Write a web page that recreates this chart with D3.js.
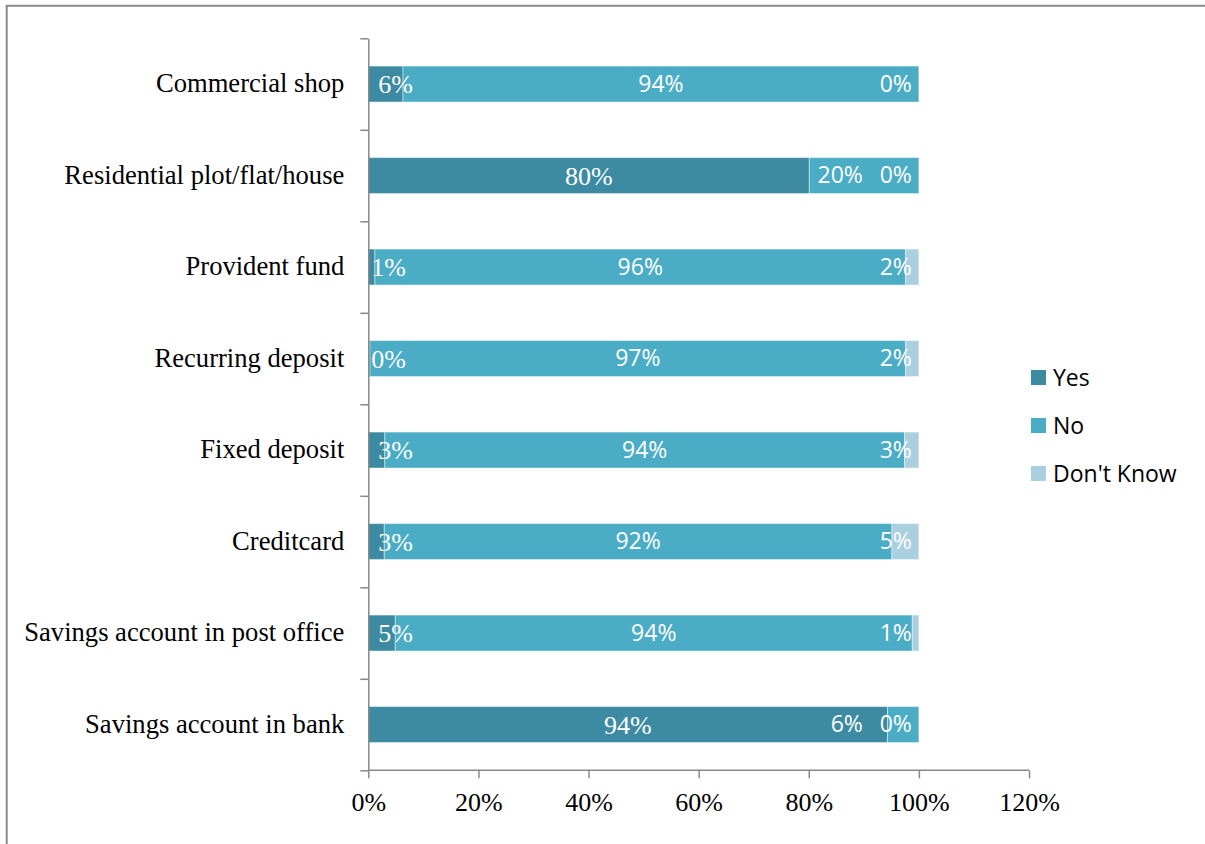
<!DOCTYPE html>
<html>
<head>
<meta charset="utf-8">
<script src="https://cdn.jsdelivr.net/npm/d3@7"></script>
<style>
  html, body { margin: 0; padding: 0; background: #ffffff; }
  svg { display: block; }
</style>
</head>
<body>
<svg id="chart" width="1205" height="844"></svg>
<script>
// Ownership of financial assets, share of respondents (%)
const categories = [
  "Commercial shop",
  "Residential plot/flat/house",
  "Provident fund",
  "Recurring deposit",
  "Fixed deposit",
  "Creditcard",
  "Savings account in post office",
  "Savings account in bank"
];
const seriesNames = ["Yes", "No", "Don't Know"];
const yesValues      = [6.3, 80.1, 1.2, 0.3, 3.0, 2.9, 4.9, 94.3];
const noValues       = [93.7, 19.9, 96.4, 97.3, 94.4, 92.2, 93.9, 5.7];
const dontKnowValues = [0.0, 0.0, 2.4, 2.4, 2.6, 4.9, 1.2, 0.0];
const xTicks = [0, 20, 40, 60, 80, 100, 120];

const colors = ["#3d8ba2", "#4bacc6", "#aacfdf"];
const serif = "'Liberation Serif', 'Times New Roman', serif";
const sans = "'Open Sans', 'Noto Sans', sans-serif";
const axisColor = "#888888";

const svg = d3.select("#chart");

// outer frame (open on the right and bottom)
svg.append("rect")
  .attr("x", 6.7).attr("y", 5.8)
  .attr("width", 1400).attr("height", 1000)
  .attr("fill", "none")
  .attr("stroke", "#8a8a8a")
  .attr("stroke-width", 2);

const plotTop = 38.3, plotBottom = 770.3;
const x = d3.scaleLinear().domain([0, 120]).range([368.3, 1029]);
const y = d3.scaleBand()
  .domain(categories)
  .range([plotTop, plotBottom])
  .paddingInner(0.607)
  .paddingOuter(0.3035);
const yEdges = d3.scaleLinear().domain([0, categories.length]).range([plotTop, plotBottom]);

// stacked data
const rows = categories.map((c, i) => ({
  category: c,
  "Yes": yesValues[i],
  "No": noValues[i],
  "Don't Know": dontKnowValues[i]
}));
const stack = d3.stack().keys(seriesNames)(rows);

const fmt = d3.format(".0%");

const layers = svg.append("g").selectAll("g")
  .data(stack)
  .join("g")
  .attr("fill", (d, i) => colors[i]);

layers.selectAll("rect")
  .data(d => d)
  .join("rect")
  .attr("x", d => x(d[0]))
  .attr("y", d => y(d.data.category))
  .attr("width", d => Math.max(0, x(d[1]) - x(d[0])))
  .attr("height", y.bandwidth())
  .attr("stroke", "#ffffff")
  .attr("stroke-opacity", 0.45)
  .attr("stroke-width", 1);

// data labels
const labelGroup = svg.append("g");
stack.forEach((layer, si) => {
  layer.forEach(d => {
    const v = d[1] - d[0];
    const cy = y(d.data.category) + y.bandwidth() / 2;
    let lx, anchor = "middle";
    if (si === 0) {
      if (v >= 10) { lx = x((d[0] + d[1]) / 2); }
      else { lx = x(0) + (v < 2 ? 3 : 10); anchor = "start"; }
    } else if (si === 1) {
      if (v >= 25) { lx = x((d[0] + d[1]) / 2); }
      else { lx = x(100) - 56; anchor = "end"; }
    } else {
      lx = x(100) - 7; anchor = "end";
    }
    labelGroup.append("text")
      .attr("x", lx)
      .attr("y", cy + (si === 0 ? 9 : 7.5))
      .attr("text-anchor", anchor)
      .attr("fill", "#ffffff")
      .style("font-family", si === 0 ? serif : sans)
      .style("font-size", si === 0 ? "26px" : "23px")
      .text(fmt(v / 100));
  });
});

// y axis: boundary ticks
const yAxisG = svg.append("g")
  .attr("transform", `translate(${x(0)},0)`)
  .call(d3.axisLeft(yEdges).tickValues(d3.range(categories.length + 1)).tickFormat("").tickSize(8).tickSizeOuter(0));
yAxisG.selectAll("line, path").attr("stroke", axisColor).attr("stroke-width", 1.5);

// category labels
const catG = svg.append("g")
  .attr("transform", `translate(${x(0)},0)`)
  .call(d3.axisLeft(y).tickSize(0).tickPadding(24));
catG.select(".domain").remove();
catG.selectAll("text")
  .attr("dy", null)
  .attr("y", 8)
  .attr("fill", "#000000")
  .style("font-family", serif)
  .style("font-size", "26.6px");

// x axis
const xAxisG = svg.append("g")
  .attr("transform", `translate(0,${plotBottom})`)
  .call(d3.axisBottom(x).tickValues(xTicks).tickFormat(d => d + "%").tickSize(8).tickSizeOuter(0).tickPadding(14));
xAxisG.select(".domain").attr("d", `M${x(0)},0H${x(120)}`);
xAxisG.selectAll("line, path").attr("stroke", axisColor).attr("stroke-width", 1.5);
xAxisG.selectAll("text")
  .attr("dy", null)
  .attr("y", 41)
  .attr("fill", "#000000")
  .style("font-family", serif)
  .style("font-size", "26px");

// legend
const legend = svg.append("g").selectAll("g")
  .data(seriesNames)
  .join("g")
  .attr("transform", (d, i) => `translate(1031,${377.5 + i * 48})`);
legend.append("rect")
  .attr("x", 0).attr("y", -7.5)
  .attr("width", 15).attr("height", 15)
  .attr("fill", (d, i) => colors[i]);
legend.append("text")
  .attr("x", 22).attr("y", 8)
  .attr("fill", "#000000")
  .style("font-family", sans)
  .style("font-size", "23px")
  .text(d => d);
</script>
</body>
</html>
